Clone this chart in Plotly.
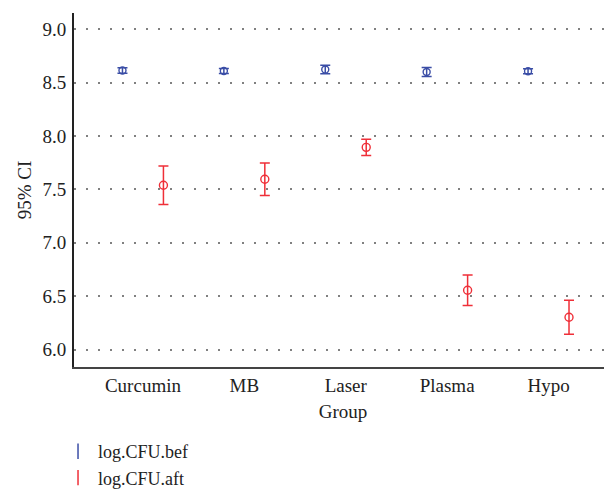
import plotly.graph_objects as go

groups = ["Curcumin", "MB", "Laser", "Plasma", "Hypo"]
bef_mean = [8.614, 8.610, 8.623, 8.600, 8.607]
bef_err = [0.025, 0.023, 0.040, 0.042, 0.023]
aft_mean = [7.539, 7.595, 7.894, 6.555, 6.302]
aft_err = [0.181, 0.152, 0.077, 0.143, 0.160]
y_ticks = [6.0, 6.5, 7.0, 7.5, 8.0, 8.5, 9.0]

BLUE = "#3b4ea6"
RED = "#ef2f38"
FONT = "Liberation Serif"
offset = 0.202

idx = list(range(len(groups)))
fig = go.Figure()
fig.add_trace(go.Scatter(
    x=[i - offset for i in idx], y=bef_mean, mode="markers", showlegend=False,
    marker=dict(symbol="circle-open", size=7, color=BLUE, line=dict(width=1.4, color=BLUE)),
    error_y=dict(type="data", array=bef_err, color=BLUE, thickness=1.5, width=5),
))
fig.add_trace(go.Scatter(
    x=[i + offset for i in idx], y=aft_mean, mode="markers", showlegend=False,
    marker=dict(symbol="circle-open", size=8, color=RED, line=dict(width=1.4, color=RED)),
    error_y=dict(type="data", array=aft_err, color=RED, thickness=1.5, width=5),
))
fig.add_trace(go.Scatter(
    x=[None], y=[None], mode="markers", name="log.CFU.bef",
    marker=dict(symbol="line-ns-open", size=11, color=BLUE, line=dict(width=1.5, color=BLUE)),
))
fig.add_trace(go.Scatter(
    x=[None], y=[None], mode="markers", name="log.CFU.aft",
    marker=dict(symbol="line-ns-open", size=11, color=RED, line=dict(width=1.5, color=RED)),
))

fig.update_layout(
    width=604, height=481,
    margin=dict(l=66, r=0, t=5, b=122, autoexpand=False),
    paper_bgcolor="white", plot_bgcolor="white",
    font=dict(family=FONT, size=19, color="#222222"),
    showlegend=True,
    legend=dict(
        x=-0.0297, y=-0.3644, xanchor="left", yanchor="bottom",
        font=dict(family=FONT, size=18, color="#222222"), itemwidth=30,
        bgcolor="rgba(0,0,0,0)", tracegroupgap=0,
    ),
    xaxis=dict(
        range=[-0.68, 4.626], tickmode="array", tickvals=idx, ticktext=groups,
        showgrid=False, zeroline=False, showline=True, linecolor="#444444", linewidth=2,
        ticks="", ticklabelstandoff=0, automargin=False,
        title=dict(text="Group", font=dict(family=FONT, size=19), standoff=10),
    ),
    yaxis=dict(
        range=[5.836, 9.153], tickmode="array", tickvals=y_ticks,
        ticktext=[f"{v:.1f}" for v in y_ticks],
        showgrid=True, gridcolor="#808080", gridwidth=1.5, griddash="2px,10px",
        zeroline=False, showline=True, linecolor="#222222", linewidth=2,
        ticks="", ticklabelstandoff=2, automargin=False,
        title=dict(text="95% CI", font=dict(family=FONT, size=19), standoff=6),
    ),
)
fig.write_html("out.html")
